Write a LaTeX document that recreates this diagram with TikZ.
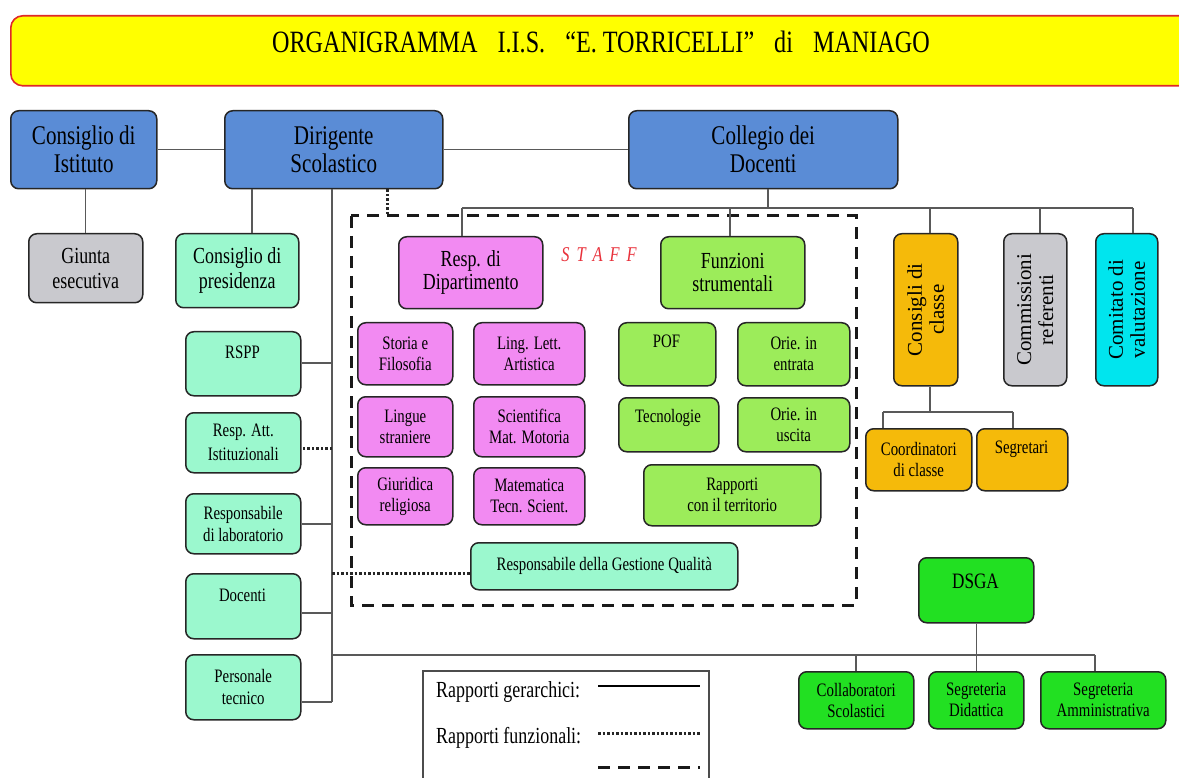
\documentclass[tikz,border=0pt]{standalone}
\usepackage{fontspec}
\setmainfont[FakeStretch=0.78]{Liberation Serif}
\newfontfamily\rotfont{Liberation Serif}
\definecolor{cblue}{HTML}{5A8CD6}
\definecolor{cgray}{HTML}{C9C9CE}
\definecolor{cmint}{HTML}{9BF8CE}
\definecolor{cpink}{HTML}{F28AF2}
\definecolor{clgreen}{HTML}{9CEC5A}
\definecolor{corange}{HTML}{F5BA0A}
\definecolor{ccyan}{HTML}{00E5EE}
\definecolor{cgreen}{HTML}{22E022}
\definecolor{ctitle}{HTML}{FFFF00}
\definecolor{cred}{HTML}{E02828}
\definecolor{cstaff}{HTML}{E8303A}
\newcommand\obox[7]{\node[box,#1,minimum width={(#5-#3)*1pt},minimum height={(#6-#4)*1pt},anchor=north west] (#2) at (#3,#4) {#7};}
\begin{document}
\begin{tikzpicture}[x=1pt,y=-1pt,
  box/.style={draw=black!85,line width=1.5pt,rounded corners=8pt,inner sep=0pt,align=center,text=black},
  blue/.style={fill=cblue},
  grayb/.style={fill=cgray},
  mint/.style={fill=cmint},
  pink/.style={fill=cpink},
  lgreen/.style={fill=clgreen},
  orange/.style={fill=corange},
  cyanb/.style={fill=ccyan},
  greenb/.style={fill=cgreen},
  fbig/.style={font=\fontsize{27}{28}\selectfont},
  fmed/.style={font=\fontsize{23}{25}\selectfont},
  fdep/.style={font=\fontsize{23}{23}\selectfont},
  fsmall/.style={font=\fontsize{19}{21}\selectfont},
  fleft/.style={font=\fontsize{19}{22}\selectfont},
  frot/.style={font=\rotfont\fontsize{21}{22}\selectfont,rotate=90,align=center},
  conn/.style={draw=black!65,line width=1.3pt},
  funz/.style={draw=black!85,line width=3pt,dash pattern=on 2.5pt off 2pt},
  staffline/.style={draw=black!90,line width=3pt,dash pattern=on 12pt off 8pt},
  lbl/.style={anchor=base,inner sep=0pt}
]
\useasboundingbox (0,0) rectangle (1179,778);

% title
\obox{fill=ctitle,draw=cred,line width=1.6pt,rounded corners=12pt}{title}{10}{15}{1192}{85}{}
\node[lbl,font=\fontsize{31}{31}\selectfont] (titletext) at (601,53) {ORGANIGRAMMA\hspace{20pt}I.I.S.\hspace{20pt}“E. TORRICELLI”\hspace{20pt}di\hspace{20pt}MANIAGO};

% top row
\obox{blue,fbig}{cdi}{10}{110}{156}{188}{Consiglio di\\Istituto}
\obox{blue,fbig}{dir}{224}{110}{442}{188}{Dirigente\\Scolastico}
\obox{blue,fbig}{col}{628}{110}{897}{188}{Collegio dei\\Docenti}

% second row left
\obox{grayb,fmed}{giunta}{28}{233}{142}{302}{Giunta\\esecutiva}
\obox{mint,fmed}{cpres}{175}{233}{298}{307}{Consiglio di\\presidenza}

% left column
\obox{mint}{rspp}{185}{331}{300}{395}{}
\node[lbl,fleft] (rsppt) at (242.5,359) {RSPP};
\obox{mint,fleft}{ratt}{185}{412}{300}{472}{Resp. Att.\\[2pt]Istituzionali}
\obox{mint,fleft}{rlab}{185}{493}{300}{553}{Responsabile\\di laboratorio}
\obox{mint}{doc}{185}{573}{300}{638}{}
\node[lbl,fleft] (doct) at (242.5,601) {Docenti};
\obox{mint,fleft}{pers}{185}{654}{300}{719}{Personale\\tecnico}

% staff area
\draw[staffline] (351,216) rectangle (856,605);
\node[lbl,text=cstaff,font=\itshape\fontsize{21}{21}\selectfont] (staff) at (599,262) {S\hspace{7pt}T\hspace{7pt}A\hspace{7pt}F\hspace{7pt}F};

\obox{pink,fdep}{rdip}{398}{236}{542}{308}{Resp. di\\Dipartimento}
\obox{lgreen,fdep}{fstr}{660}{236}{804}{308}{Funzioni\\strumentali}

\obox{pink,fsmall}{p1}{357}{322}{452}{384}{Storia e\\Filosofia}
\obox{pink,fsmall}{p2}{473}{322}{584}{384}{Ling. Lett.\\Artistica}
\obox{pink,fsmall}{p3}{357}{396}{452}{456}{Lingue\\straniere}
\obox{pink,fsmall}{p4}{473}{396}{584}{456}{Scientifica\\Mat. Motoria}
\obox{pink,fsmall}{p5}{357}{467}{452}{524}{Giuridica\\religiosa}
\obox{pink,fsmall}{p6}{473}{467}{584}{524}{Matematica\\Tecn. Scient.}

\obox{lgreen}{pof}{618}{322}{715}{385}{}
\node[lbl,fsmall] (poft) at (666.5,348) {POF};
\obox{lgreen,fsmall}{oent}{737}{322}{849}{385}{Orie. in\\entrata}
\obox{lgreen}{tec}{618}{397}{718}{451}{}
\node[lbl,fsmall] (tect) at (668,422) {Tecnologie};
\obox{lgreen,fsmall}{ousc}{737}{397}{849}{451}{Orie. in\\uscita}
\obox{lgreen,fsmall}{rterr}{643}{464}{820}{525}{Rapporti\\con il territorio}

\obox{mint,fsmall}{gest}{470}{542}{737}{589}{Responsabile della Gestione Qualità}

% right column
\obox{orange}{ccl}{893}{233}{957}{385}{}
\node[frot] (cclt) at (ccl.center) {Consigli di\\classe};
\obox{grayb}{comm}{1003}{233}{1066}{385}{}
\node[frot] (commt) at (comm.center) {Commissioni\\referenti};
\obox{cyanb}{cval}{1095}{233}{1157}{385}{}
\node[frot] (cvalt) at (cval.center) {Comitato di\\valutazione};

\obox{orange,fsmall}{coord}{865}{428}{971}{490}{Coordinatori\\di classe}
\obox{orange}{segr}{976}{428}{1067}{490}{}
\node[lbl,fsmall] (segrt) at (1021.5,453) {Segretari};

% DSGA
\obox{greenb}{dsga}{918}{557}{1033}{622}{}
\node[lbl,font=\fontsize{22}{22}\selectfont] (dsgat) at (975.5,588) {DSGA};
\obox{greenb,fsmall}{coll}{798}{671}{913}{728}{Collaboratori\\Scolastici}
\obox{greenb,fsmall}{sdid}{928}{671}{1023}{728}{Segreteria\\Didattica}
\obox{greenb,fsmall}{samm}{1040}{671}{1165}{728}{Segreteria\\Amministrativa}

% coordinates for the trunks
\coordinate (vx) at (332,0);
\coordinate (cpx) at (252,0);
\coordinate (dotx) at (387,216);
\coordinate (colx) at (768,208);
\coordinate (colL) at (462,208);
\coordinate (colR) at (1133,208);
\coordinate (vbot) at (332,702);
\coordinate (hL) at (332,655);
\coordinate (hR) at (1095,655);
\coordinate (a1) at (332,363);
\coordinate (a2) at (332,448);
\coordinate (a3) at (332,524);
\coordinate (a4) at (332,613);
\coordinate (a5) at (332,702);
\coordinate (a6) at (332,573);
\coordinate (cb) at (930,412);
\coordinate (cbL) at (883,412);
\coordinate (cbR) at (1013,412);

% hierarchical connectors
\draw[conn] (cdi.east) -- (dir.west);
\draw[conn] (dir.east) -- (col.west);
\draw[conn] (giunta.north) -- (giunta.north |- cdi.south);
\draw[conn] (cpx |- cpres.north) -- (cpx |- dir.south);
\draw[conn] (vx |- dir.south) -- (vbot);
\draw[conn] (a1) -- (a1 -| rspp.east);
\draw[conn] (a3) -- (a3 -| rlab.east);
\draw[conn] (a4) -- (a4 -| doc.east);
\draw[conn] (a5) -- (a5 -| pers.east);
\draw[conn] (hL) -- (hR);
\draw[conn] (dsga.south) -- (dsga.south |- hL);
\draw[conn] (coll.north -| 856,0) -- (856,655);
\draw[conn] (sdid.north -| dsga.south) -- (dsga.south |- hL);
\draw[conn] (hR) -- (hR |- samm.north);
\draw[conn] (colx |- col.south) -- (colx);
\draw[conn] (colL) -- (colR);
\draw[conn] (colL) -- (colL |- rdip.north);
\draw[conn] (730,208) -- (730,236);
\draw[conn] (930,208) -- (ccl.north -| 930,0);
\draw[conn] (1040,208) -- (comm.north -| 1040,0);
\draw[conn] (colR) -- (colR |- cval.north);
\draw[conn] (cb |- ccl.south) -- (cb);
\draw[conn] (cbL) -- (cbR);
\draw[conn] (cbL) -- (cbL |- coord.north);
\draw[conn] (cbR) -- (cbR |- segr.north);

% functional connectors
\draw[funz] (dotx |- dir.south) -- (dotx);
\draw[funz] (a2) -- (a2 -| ratt.east);
\draw[funz] (a6) -- (a6 -| gest.west);

% legend
\draw[draw=black!70,line width=1.3pt] (423,671) rectangle (709,800);
\node[anchor=base west,inner sep=0pt,font=\fontsize{23}{23}\selectfont] (lg1) at (436,697) {Rapporti gerarchici:};
\node[anchor=base west,inner sep=0pt,font=\fontsize{23}{23}\selectfont] (lg2) at (436,743) {Rapporti funzionali:};
\draw[conn,draw=black] (598,686) -- (700,686);
\draw[funz] (598,733) -- (700,733);
\draw[staffline] (598,767) -- (700,767);
\end{tikzpicture}
\end{document}
